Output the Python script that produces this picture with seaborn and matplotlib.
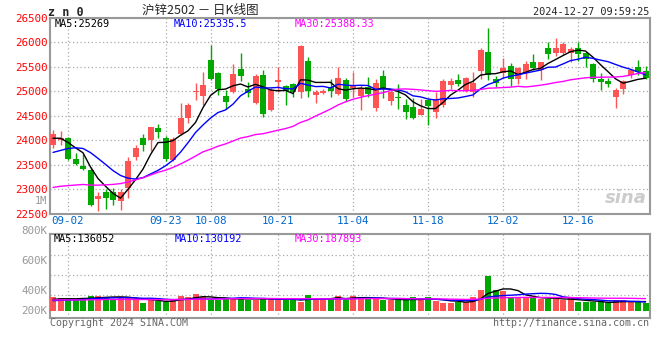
import numpy as np
import pandas as pd
import seaborn as sns
import matplotlib.pyplot as plt

# ---- data ---------------------------------------------------------------
dates = ["08-29", "08-30",
         "09-02", "09-03", "09-04", "09-05", "09-06", "09-09", "09-10", "09-11", "09-12", "09-13",
         "09-18", "09-19", "09-20", "09-23", "09-24", "09-25", "09-26", "09-27", "09-30",
         "10-08", "10-09", "10-10", "10-11", "10-14", "10-15", "10-16", "10-17", "10-18",
         "10-21", "10-22", "10-23", "10-24", "10-25", "10-28", "10-29", "10-30", "10-31",
         "11-01", "11-04", "11-05", "11-06", "11-07", "11-08", "11-11", "11-12", "11-13", "11-14",
         "11-15", "11-18", "11-19", "11-20", "11-21", "11-22", "11-25", "11-26", "11-27", "11-28",
         "11-29", "12-02", "12-03", "12-04", "12-05", "12-06", "12-09", "12-10", "12-11", "12-12",
         "12-13", "12-16", "12-17", "12-18", "12-19", "12-20", "12-23", "12-24", "12-25", "12-26",
         "12-27"]

opens = [23910, 24000, 24050, 23610, 23480, 23380, 22800, 22930, 22950, 22750,
         23020, 23660, 24050, 24000, 24245, 24050, 23585, 24130, 24450, 24980,
         24905, 25640, 25370, 24900, 24990, 25450, 25045, 24770, 25330, 24620,
         25195, 25110, 25140, 24980, 25620, 24920, 24970, 25090, 24940, 25240,
         25070, 24910, 25090, 24660, 25310, 24800, 24870, 24720, 24680, 24510,
         24820, 24580, 24730, 25130, 25240, 25000, 24980, 25410, 25800, 25250,
         25370, 25520, 25260, 25370, 25590, 25430, 25880, 25790, 25790, 25790,
         25880, 25775, 25550, 25250, 25210, 24890, 25045, 25330, 25490, 25420]
closes = [24130, 24040, 23610, 23510, 23420, 22680, 22860, 22820, 22780, 22930,
          23580, 23850, 23905, 24260, 24160, 23610, 24020, 24450, 24720, 25010,
          25130, 25260, 25040, 24790, 25345, 25310, 24960, 25310, 24530, 25025,
          25230, 25000, 24990, 25930, 25000, 24990, 25000, 25000, 25280, 24850,
          25130, 25070, 24940, 25160, 25045, 24980, 24860, 24580, 24460, 24640,
          24700, 24850, 25210, 25210, 25150, 25280, 25175, 25840, 25330, 25180,
          25470, 25260, 25480, 25550, 25470, 25590, 25760, 25880, 25960, 25860,
          25760, 25660, 25250, 25195, 25150, 25025, 25215, 25434, 25400, 25265]
highs = [24200, 24190, 24060, 23730, 23710, 23460, 22950, 23000, 23020, 23000,
         23650, 23900, 24120, 24260, 24340, 24080, 24060, 24760, 24760, 25180,
         25400, 25950, 25390, 25030, 25550, 25790, 25200, 25350, 25430, 25060,
         25500, 25130, 25160, 25940, 25700, 25025, 25045, 25250, 25495, 25280,
         25390, 25130, 25300, 25250, 25430, 25025, 25150, 24840, 24870, 24850,
         24850, 24980, 25250, 25280, 25350, 25290, 25390, 25880, 26300, 25320,
         25690, 25580, 25500, 25620, 25760, 25600, 26000, 26100, 26000, 25900,
         26000, 25800, 25580, 25370, 25280, 25070, 25240, 25450, 25640, 25520]
lows = [23830, 23900, 23600, 23490, 23380, 22660, 22560, 22590, 22680, 22570,
        22820, 23600, 23770, 23770, 24040, 23570, 23570, 24110, 24350, 24820,
        24720, 25230, 24925, 24640, 24970, 25210, 24890, 24750, 24480, 24590,
        24990, 24730, 24890, 24870, 24890, 24770, 24950, 24890, 24920, 24800,
        24890, 24620, 24890, 24600, 24870, 24730, 24630, 24430, 24430, 24510,
        24310, 24460, 24680, 25040, 25110, 24990, 24890, 25260, 25230, 25090,
        25280, 25110, 25150, 25260, 25430, 25230, 25660, 25730, 25750, 25600,
        25620, 25500, 25190, 25020, 25080, 24660, 24950, 25280, 25330, 25250]
volumes = [208700, 188700, 168900, 153900, 188700, 223600, 223600, 203300, 179000, 198500,
           203300, 158800, 114200, 158800, 139300, 123900, 174200, 218700, 203300, 248700,
           198500, 158800, 158800, 188700, 183900, 188700, 158800, 158800, 188700, 188700,
           153900, 158800, 158800, 134500, 233300, 174200, 174200, 174200, 218700, 158800,
           218700, 198500, 179000, 183900, 158800, 158800, 158800, 158800, 198500, 158800,
           198500, 149000, 114200, 114200, 134500, 123900, 198500, 307800, 521600, 302900,
           288400, 198500, 183900, 209000, 198500, 179000, 168500, 174200, 158800, 183900,
           134500, 123900, 123900, 123900, 109400, 158800, 158800, 123900, 128800, 109400]

# closes / volumes before the visible window (estimated so the MA lines start where they do)
prior_close = [23320, 23210, 23150, 23080, 23065, 22880, 22640, 22510, 22430, 22560,
               22590, 22620, 22570, 22480, 22350, 22290, 22330, 22410, 22480, 22530,
               23640, 23213, 23360, 23562, 23525, 24040, 24043, 24055, 23932]
prior_volume = [172000, 158000, 181000, 165000, 149000, 176000, 160000, 153000, 187000, 170000,
                162000, 148000, 171000, 166000, 155000, 178000, 160000, 152000, 169000, 168000,
                135000, 122000, 131000, 126000, 131000, 150000, 163000, 158000, 165000]

date_ticks = ["09-02", "09-23", "10-08", "10-21", "11-04", "11-18", "12-02", "12-16"]
price_ticks = [22500, 23000, 23500, 24000, 24500, 25000, 25500, 26000, 26500]
vol_tick_labels = ["800K", "600K", "400K", "200K"]
ma_labels = ["MA5:25269", "MA10:25335.5", "MA30:25388.33"]
vol_ma_labels = ["MA5:136052", "MA10:130192", "MA30:187893"]
ma_windows = [5, 10, 30]
ma_colors = ["black", "#0000ff", "#ff00ff"]

# ---- derived ------------------------------------------------------------
df = pd.DataFrame({"date": dates, "open": opens, "close": closes,
                   "high": highs, "low": lows, "volume": volumes})
df["x"] = np.arange(len(df))
n = len(df)
all_close = pd.Series(prior_close + closes)
all_vol = pd.Series(prior_volume + volumes)
for w in ma_windows:
    df[f"ma{w}"] = all_close.rolling(w).mean().iloc[-n:].values
    df[f"vma{w}"] = all_vol.rolling(w).mean().iloc[-n:].values

RED, GREEN = "#ff5454", "#00a800"
colors = [RED if c >= o else GREEN for o, c in zip(df["open"], df["close"])]
tick_x = [dates.index(d) for d in date_ticks]

sns.set_style("white")
plt.rcParams["font.family"] = ["DejaVu Sans Mono"]

fig = plt.figure(figsize=(6.6, 3.6), dpi=100)
ax = fig.add_axes([50 / 660, 146.5 / 360, 600 / 660, 195.5 / 360])
axv = fig.add_axes([50 / 660, 42 / 360, 600 / 660, 84 / 360])

grid_kw = dict(color="#aaaaaa", linestyle=(0, (1, 2)), linewidth=0.9)

# ---- price panel --------------------------------------------------------
ax.vlines(df["x"], df["low"], df["high"], colors=colors, linewidth=1, zorder=3)
body_low = np.minimum(df["open"], df["close"])
body_h = np.maximum((df["close"] - df["open"]).abs(), 20)
ax.bar(df["x"], body_h, bottom=body_low, width=0.8, color=colors, linewidth=0, zorder=4)
for w, c in zip(ma_windows, ma_colors):
    sns.lineplot(x=df["x"], y=df[f"ma{w}"], ax=ax, color=c, linewidth=1, zorder=5)

ax.set_xlim(-0.4, 79.6)
ax.set_ylim(22500, 26500)
ax.set_yticks(price_ticks)
ax.set_yticklabels([str(p) for p in price_ticks], color="#ff0000", fontsize=7.8)
ax.set_xticks(tick_x)
ax.set_xticklabels(date_ticks, color="#0066cc", fontsize=7.8)
ax.tick_params(length=0, pad=2)
ax.grid(True, **grid_kw)
ax.set_xlabel("")
ax.set_ylabel("")
for s in ax.spines.values():
    s.set_color("#999999")
    s.set_linewidth(1.5)

for lab, c, px in zip(ma_labels, ma_colors, [55, 174, 295]):
    fig.text(px / 660, 1 - 24 / 360, lab, color=c, fontsize=7.4, va="center", ha="left")
fig.text(47 / 660, 1 - 200.5 / 360, "1M", color="#999999", fontsize=7.4, ha="right", va="center")
fig.text(647 / 660, 1 - 198 / 360, "sina", color="#cccccc", fontsize=13, fontweight="bold",
         fontstyle="italic", family="DejaVu Sans", ha="right", va="center")

# ---- volume panel -------------------------------------------------------
axv.bar(df["x"], df["volume"], width=0.8, color=colors, linewidth=0, zorder=3)
for w, c in zip(ma_windows, ma_colors):
    sns.lineplot(x=df["x"], y=df[f"vma{w}"], ax=axv, color=c, linewidth=1, zorder=4)
axv.set_xlim(-0.4, 79.6)
axv.set_ylim(-109000, 1143000)
axv.set_xticks(tick_x)
axv.set_xticklabels([])
axv.set_yticks([232000, 530000, 828000])
axv.set_yticklabels([])
axv.tick_params(length=0)
axv.grid(True, **grid_kw)
axv.set_xlabel("")
axv.set_ylabel("")
for s in axv.spines.values():
    s.set_color("#999999")
    s.set_linewidth(1.5)

for lab, py in zip(vol_tick_labels, [231, 261, 291, 311]):
    fig.text(47 / 660, 1 - py / 360, lab, color="#999999", fontsize=7.8, ha="right", va="center")
for lab, c, px in zip(vol_ma_labels, ma_colors, [54, 175, 295]):
    fig.text(px / 660, 1 - 238.5 / 360, lab, color=c, fontsize=7.4, va="center", ha="left")

# ---- header / footer ----------------------------------------------------
fig.text(48 / 660, 1 - 12 / 360, "z n 0", fontsize=8.5, fontweight="bold", va="center", ha="left")
fig.text(200 / 660, 1 - 10 / 360, "沪锌2502 － 日K线图", fontsize=9,
         family=["Noto Sans CJK SC", "DejaVu Sans"], va="center", ha="center")
fig.text(649 / 660, 1 - 12 / 360, "2024-12-27 09:59:25", fontsize=7.4, va="center", ha="right")
fig.text(50 / 660, 1 - 323 / 360, "Copyright 2024 SINA.COM", color="#666666", fontsize=7.2,
         va="center", ha="left")
fig.text(649 / 660, 1 - 323 / 360, "http://finance.sina.com.cn", color="#666666", fontsize=7.2,
         va="center", ha="right")

fig.savefig("out.png", dpi=100)
